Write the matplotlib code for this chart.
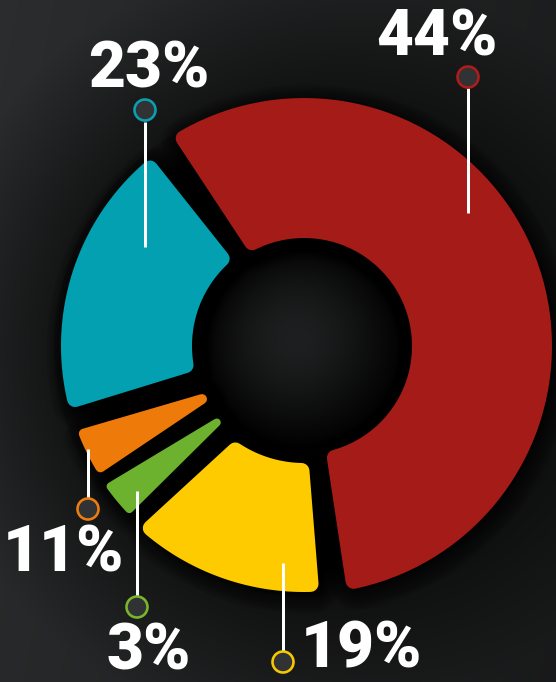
import numpy as np
import matplotlib
matplotlib.use("Agg")
import matplotlib.pyplot as plt
from matplotlib.patches import Polygon, Circle

# data
labels = ["44%", "23%", "11%", "3%", "19%"]
values = [44, 23, 11, 3, 19]
colors = ["#a51b18", "#02a0b1", "#ee7a0a", "#6cb22e", "#fecb00"]
ring_colors = ["#b01c1c", "#0aa0b2", "#ee7d10", "#7ab52c", "#f6c800"]

# drawn shape of each segment (degrees / pixel radii)
outer_start = [-80.0, 129.0, 200.5, 215.0, 228.0]
outer_end = [122.0, 195.0, 212.0, 224.0, 273.5]
inner_start = [-78.5, 129.5, 207.0, 221.0, 233.0]
inner_end = [120.5, 193.0, 208.0, 221.5, 272.5]
outer_r = [248, 243, 242, 243, 246]
inner_r = [108, 112, 110, 112, 117]
corner = [8, 8, 5, 4, 8]

# label layout: text anchor, marker circle, leader line
text_xy = [(437, 55), (149, 87), (63, 572), (149, 669), (361, 668)]
marker_xy = [(468, 77), (145, 110), (88, 509), (137, 607), (283, 662)]
line_y = [(88, 213), (122, 247), (449, 498), (491, 596), (563, 651)]

W, H = 556, 682
cx, cy = 304, 346

fig = plt.figure(figsize=(W / 100, H / 100), dpi=100)
ax = fig.add_axes([0, 0, 1, 1])
ax.set_xlim(0, W)
ax.set_ylim(H, 0)
ax.axis("off")

# background gradient
yy, xx = np.mgrid[0:H, 0:W]
d = np.hypot(xx - cx, yy - cy)
base = 0.175 - 0.06 * (xx / W) - 0.015 * (yy / H)
shade = 0.45 + 0.55 * np.clip((d - 235) / 150, 0, 1)
lum = base * shade
ring = (d > 100) & (d < 250)
lum = np.where(ring, lum * np.clip((d - 200) / 60, 0.15, 1), lum)
hole = d <= 104
tilt = 1 - 0.35 * np.clip(((xx - cx) + (yy - cy)) / 150, -1, 1)
hole_lum = 0.12 * np.clip(1 - (d / 104) ** 1.6, 0, 1) * tilt
lum = np.where(hole, hole_lum, lum)
img = np.dstack([lum * 0.97, lum * 1.0, lum * 1.02])
ax.imshow(np.clip(img, 0, 1), extent=[0, W, H, 0], zorder=0, interpolation="bilinear")


def seg_points(a0o, a1o, a0i, a1i, ro, ri, pad=8, n=80):
    ro2, ri2 = ro - pad, ri + pad
    do = np.degrees(pad / ro2)
    di = np.degrees(pad / ri2)
    a0o, a1o = a0o + do, a1o - do
    a0i, a1i = a0i + di, a1i - di
    if a1i < a0i:
        m = (a0i + a1i) / 2
        a0i = a1i = m
    to = np.radians(np.linspace(a0o, a1o, n))
    ti = np.radians(np.linspace(a1i, a0i, n))
    xs = np.concatenate([cx + ro2 * np.cos(to), cx + ri2 * np.cos(ti)])
    ys = np.concatenate([cy - ro2 * np.sin(to), cy - ri2 * np.sin(ti)])
    return np.column_stack([xs, ys])


pts_px = 72 / 100  # points per pixel
for i in range(len(values)):
    pad = corner[i]
    pts = seg_points(outer_start[i], outer_end[i], inner_start[i], inner_end[i],
                     outer_r[i], inner_r[i], pad=pad)
    # soft dark shadow
    for k in range(8):
        sh = Polygon(pts + [3, 4], closed=True, facecolor="black", edgecolor="black",
                     lw=(2 * pad + k * 5) * pts_px, joinstyle="round", alpha=0.09, zorder=1)
        ax.add_patch(sh)
    p = Polygon(pts, closed=True, facecolor=colors[i], edgecolor=colors[i],
                lw=2 * pad * pts_px, joinstyle="round", zorder=2)
    ax.add_patch(p)

# leader lines, markers and labels
for i, lab in enumerate(labels):
    mx, my = marker_xy[i]
    ax.plot([mx, mx], line_y[i], color="white", lw=3 * pts_px, solid_capstyle="butt", zorder=3)
    ax.add_patch(Circle((mx, my), 10.5, facecolor="#303233", edgecolor=ring_colors[i],
                        lw=2.6 * pts_px, zorder=4))
    tx, ty = text_xy[i]
    ax.text(tx, ty, lab, color="white", fontsize=46, fontweight="black",
            family=["Roboto", "DejaVu Sans"], ha="center", va="baseline", zorder=5)

fig.savefig("out.png", dpi=100, facecolor="#1e1f20")
plt.close(fig)
